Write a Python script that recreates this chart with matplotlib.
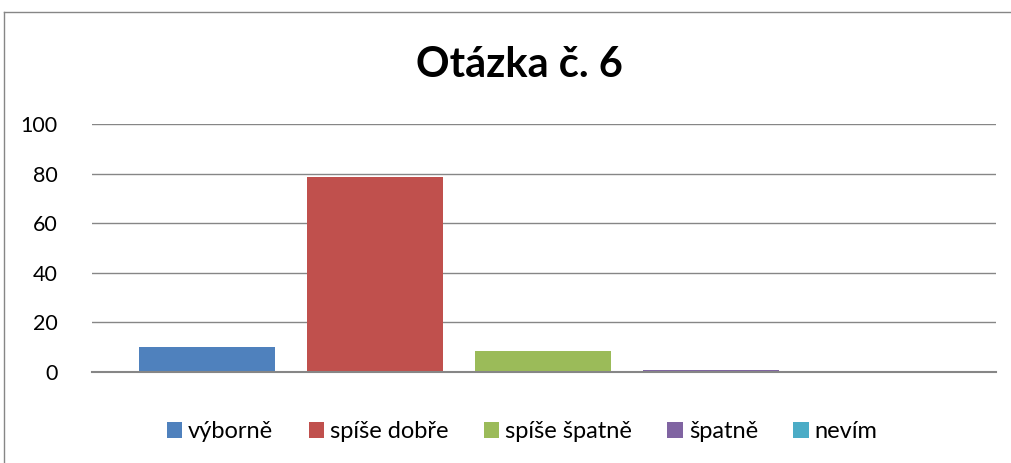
import matplotlib.pyplot as plt
from matplotlib.lines import Line2D
from matplotlib.patches import Patch

categories = ['výborně', 'spíše dobře', 'spíše špatně', 'špatně', 'nevím']
values = [9.9, 78.6, 8.3, 1.0, 0.0]
colors = ['#4F81BD', '#C0504D', '#9BBB59', '#8064A2', '#4BACC6']
yticks = [0, 20, 40, 60, 80, 100]

plt.rcParams['font.family'] = ['Lato', 'DejaVu Sans']

fig = plt.figure(figsize=(10.12, 4.63), dpi=100)
ax = fig.add_axes([92 / 1012, 1 - 372 / 463, (996 - 92) / 1012, (372 - 124) / 463])

xs = list(range(len(categories)))
ax.bar(xs, values, width=0.81, color=colors, zorder=3)

ax.set_xlim(-0.685, 4.70)
ax.set_ylim(0, 100)
ax.set_yticks(yticks)
ax.set_yticklabels([str(t) for t in yticks], fontsize=15.5)
ax.set_xticks([])
ax.tick_params(axis='y', length=0, pad=25)
for lbl in ax.get_yticklabels():
    lbl.set_horizontalalignment('right')

ax.grid(axis='y', color='#868686', linewidth=1, zorder=0)
for s in ['top', 'right', 'left']:
    ax.spines[s].set_visible(False)
ax.spines['bottom'].set_color('#868686')
ax.spines['bottom'].set_linewidth(1.5)
ax.spines['bottom'].set_zorder(4)

fig.text(0.513, 1 - 65 / 463, 'Otázka č. 6', ha='center', va='center',
         fontsize=30, fontweight='bold')

handles = [Patch(facecolor=c, edgecolor='none') for c in colors]
fig.legend(handles, categories, loc='center', bbox_to_anchor=(0.516, 1 - 432 / 463),
           ncol=5, frameon=False, fontsize=17, handlelength=0.65, handleheight=0.65,
           handletextpad=0.25, columnspacing=1.5)

# chart border
fig.add_artist(Line2D([4 / 1012, 4 / 1012], [0, 1 - 12 / 463], color='#868686', linewidth=1))
fig.add_artist(Line2D([4 / 1012, 1], [1 - 12 / 463, 1 - 12 / 463], color='#868686', linewidth=1))

fig.savefig('out.png', dpi=100)
